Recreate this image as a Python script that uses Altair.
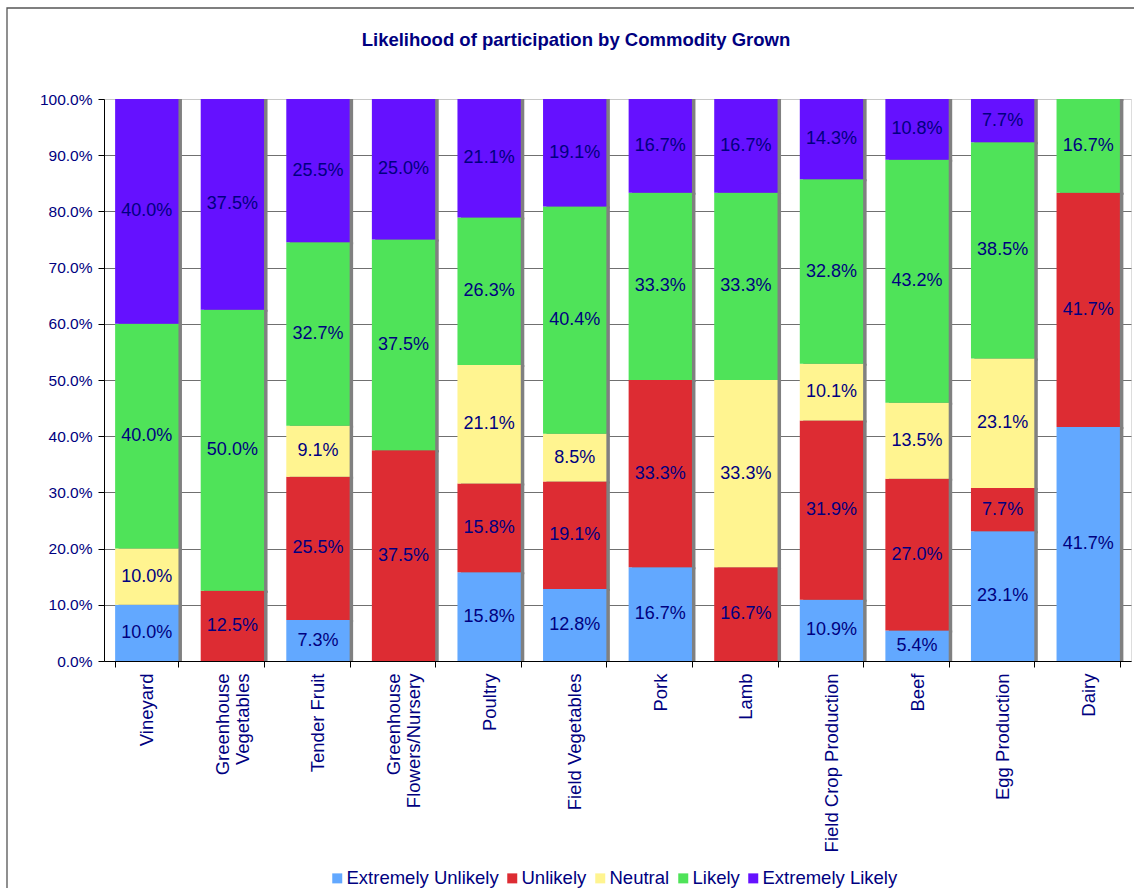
import altair as alt
import pandas as pd

# Commodity groups, left to right
commodities = [
    "Vineyard", "Greenhouse\nVegetables", "Tender Fruit", "Greenhouse\nFlowers/Nursery",
    "Poultry", "Field Vegetables", "Pork", "Lamb", "Field Crop Production",
    "Beef", "Egg Production", "Dairy",
]

# Response categories, bottom to top of each stack
levels = ["Extremely Unlikely", "Unlikely", "Neutral", "Likely", "Extremely Likely"]
level_colors = ["#62a8ff", "#dd2c33", "#fff490", "#4fe359", "#6511ff"]

# Percent of respondents per commodity
extremely_unlikely = [10.0, 0.0, 7.3, 0.0, 15.8, 12.8, 16.7, 0.0, 10.9, 5.4, 23.1, 41.7]
unlikely = [0.0, 12.5, 25.5, 37.5, 15.8, 19.1, 33.3, 16.7, 31.9, 27.0, 7.7, 41.7]
neutral = [10.0, 0.0, 9.1, 0.0, 21.1, 8.5, 0.0, 33.3, 10.1, 13.5, 23.1, 0.0]
likely = [40.0, 50.0, 32.7, 37.5, 26.3, 40.4, 33.3, 33.3, 32.8, 43.2, 38.5, 16.7]
extremely_likely = [40.0, 37.5, 25.5, 25.0, 21.1, 19.1, 16.7, 16.7, 14.3, 10.8, 7.7, 0.0]

series = [extremely_unlikely, unlikely, neutral, likely, extremely_likely]

title_text = "Likelihood of participation by Commodity Grown"

rows = []
for order, (level, values) in enumerate(zip(levels, series)):
    for cat, v in zip(commodities, values):
        rows.append({"cat": cat, "level": level, "order": order, "value": v})
df = pd.DataFrame(rows)

NAVY = "#000080"
FONT = "Liberation Sans"

base = (
    alt.Chart(df)
    .transform_stack(
        stack="value",
        groupby=["cat"],
        as_=["lo", "hi"],
        offset="normalize",
        sort=[alt.SortField("order", order="ascending")],
    )
    .transform_calculate(
        mid="(datum.lo + datum.hi) / 2",
        label="format(datum.value, '.1f') + '%'",
    )
)

x_enc = alt.X(
    "cat:N",
    sort=commodities,
    title=None,
    scale=alt.Scale(paddingInner=0.26, paddingOuter=0.13),
    axis=alt.Axis(
        labelAngle=270,
        labelAlign="right",
        labelBaseline="middle",
        labelExpr="split(datum.label, '\\n')",
        labelOffset={"condition": {"test": "indexof(datum.label, '\\n') >= 0", "value": -10}, "value": 0},
        labelLineHeight=20,
        labelFontSize=18.5,
        labelFont=FONT,
        labelColor=NAVY,
        labelPadding=6,
        tickBand="extent",
        tickSize=6,
        tickColor="#000000",
        domainColor="#000000",
        grid=False,
    ),
)

y_scale = alt.Scale(domain=[0, 1], nice=False)

y_enc = alt.Y(
    "lo:Q",
    title=None,
    scale=y_scale,
    axis=alt.Axis(
        format=".1%",
        values=[i / 10 for i in range(11)],
        labelFontSize=15.5,
        labelFont=FONT,
        labelColor=NAVY,
        labelPadding=6,
        tickSize=6,
        tickColor="#000000",
        domainColor="#000000",
        gridColor={"condition": {"test": "datum.value >= 1", "value": "#c8c8c8"}, "value": "#707070"},
        gridWidth=1,
    ),
)

single = pd.DataFrame({"title": [title_text]})

# Outer chart frame
frame = alt.Chart(single).mark_rect(
    fillOpacity=0, stroke="#555555", strokeWidth=1.3, clip=False
).encode(
    x=alt.value(-97), x2=alt.value(1100), y=alt.value(-91), y2=alt.value(900)
)

# Chart heading above the plot area
heading = alt.Chart(single).mark_text(
    font=FONT, fontSize=18.5, fontWeight="bold", color=NAVY,
    align="center", baseline="alphabetic", clip=False,
).encode(
    x=alt.value(472), y=alt.value(-53), text="title:N"
)

# Drop shadow to the right of each column
shadow = base.mark_bar(color="#808080", xOffset=3.5, yOffset=2, clip=True).encode(
    x=x_enc, y=y_enc, y2="hi:Q"
)

bars = base.mark_bar().encode(
    x=x_enc,
    y=y_enc,
    y2="hi:Q",
    color=alt.Color(
        "level:N",
        scale=alt.Scale(domain=levels, range=level_colors),
        legend=alt.Legend(
            title=None,
            orient="none",
            direction="horizontal",
            legendX=224,
            legendY=770,
            symbolType="square",
            symbolSize=100,
            symbolStrokeWidth=0,
            labelFontSize=18.5,
            labelFont=FONT,
            labelColor=NAVY,
            labelOffset=0,
            columnPadding=4,
        ),
    ),
)

labels = base.transform_filter("datum.value > 0").mark_text(
    fontSize=18, font=FONT, color=NAVY
).encode(
    x=x_enc,
    y=alt.Y("mid:Q", scale=y_scale, title=None),
    text="label:N",
)

chart = (
    alt.layer(frame, heading, shadow, bars, labels)
    .properties(
        width=1027,
        height=562,
        autosize=alt.AutoSizeParams(type="none"),
        padding={"left": 104, "top": 99, "right": 3, "bottom": 227},
    )
    .configure_view(stroke="#c0c0c0")
    .configure(background="white")
)

chart.save("out.html", embed_options={"renderer": "svg", "actions": False})
